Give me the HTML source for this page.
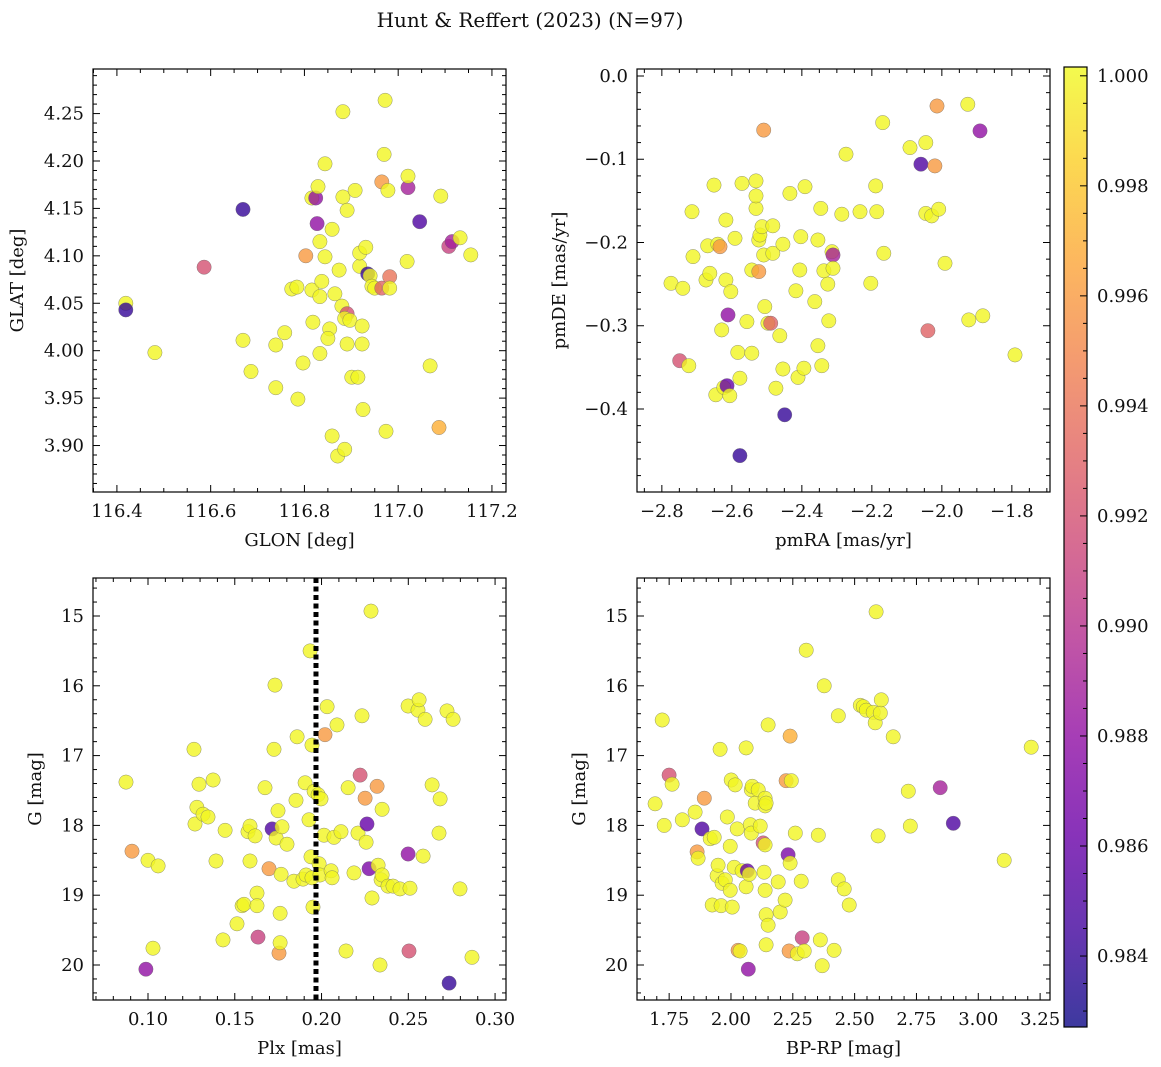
<!DOCTYPE html>
<html><head><meta charset="utf-8"><style>
body{margin:0;background:#fff}
svg{display:block;font-family:"DejaVu Serif","Liberation Serif",serif}
</style></head><body>
<svg id="fig" width="1161" height="1067" viewBox="0 0 1161 1067">
<rect width="1161" height="1067" fill="#fff"/>
<text x="530" y="27" font-size="20" text-anchor="middle" fill="#111">Hunt &amp; Reffert (2023) (N=97)</text>
</svg>
<script>
// ---- Panel data ----
const glon=[116.419,116.419,116.481,116.586,116.669,116.669,116.686,116.739,116.739,116.758,116.773,116.784,116.786,116.797,116.803,116.816,116.824,116.827,116.816,116.818,116.829,116.833,116.833,116.844,116.837,116.844,116.833,116.859,116.859,116.854,116.850,116.865,116.871,116.882,116.882,116.874,116.880,116.891,116.886,116.891,116.891,116.886,116.897,116.901,116.908,116.914,116.918,116.918,116.923,116.923,116.925,116.931,116.935,116.940,116.944,116.950,116.965,116.972,116.970,116.974,116.978,116.965,116.982,116.982,117.021,117.021,117.046,117.019,117.068,117.087,117.091,117.108,117.115,117.132,117.155];
const glat=[4.050,4.043,3.998,4.088,4.149,4.011,3.978,4.006,3.961,4.019,4.065,4.067,3.949,3.987,4.100,4.161,4.161,4.134,4.064,4.030,4.173,4.115,3.997,4.099,4.073,4.197,4.057,3.910,4.128,4.023,4.013,4.060,3.889,4.252,4.162,4.085,4.047,4.039,3.896,4.148,4.007,4.034,4.032,3.972,4.169,3.972,4.089,4.103,4.026,4.007,3.938,4.109,4.081,4.079,4.068,4.066,4.178,4.264,4.207,3.915,4.169,4.066,4.078,4.066,4.172,4.184,4.136,4.094,3.984,3.919,4.163,4.110,4.115,4.119,4.101];
const probA=[1,.984,1,.992,.984,1,1,1,1,1,1,1,1,1,.996,1,.988,.988,1,1,1,1,1,1,1,1,1,1,1,1,1,1,1,1,1,1,1,.992,1,1,1,1,1,1,1,1,1,1,1,1,1,1,.984,1,1,1,.996,1,1,1,1,.993,.994,1,.989,1,.985,1,1,.997,1,.991,.989,1,1];

const pmra=[-2.774,-2.749,-2.740,-2.723,-2.714,-2.711,-2.674,-2.669,-2.663,-2.651,-2.646,-2.640,-2.629,-2.623,-2.634,-2.617,-2.617,-2.614,-2.611,-2.606,-2.603,-2.591,-2.583,-2.577,-2.577,-2.571,-2.557,-2.543,-2.543,-2.531,-2.531,-2.531,-2.523,-2.523,-2.520,-2.514,-2.509,-2.509,-2.506,-2.497,-2.489,-2.483,-2.483,-2.474,-2.463,-2.454,-2.454,-2.449,-2.434,-2.417,-2.411,-2.406,-2.403,-2.394,-2.391,-2.363,-2.354,-2.354,-2.346,-2.343,-2.337,-2.326,-2.323,-2.314,-2.311,-2.311,-2.286,-2.274,-2.234,-2.203,-2.189,-2.186,-2.169,-2.166,-2.091,-2.060,-2.046,-2.046,-2.029,-2.020,-2.014,-2.040,-2.009,-1.991,-1.926,-1.923,-1.883,-1.891,-1.791];
const pmde=[-0.249,-0.342,-0.255,-0.348,-0.163,-0.217,-0.245,-0.204,-0.237,-0.131,-0.383,-0.202,-0.305,-0.374,-0.205,-0.173,-0.245,-0.372,-0.287,-0.384,-0.259,-0.195,-0.332,-0.363,-0.456,-0.129,-0.295,-0.333,-0.233,-0.126,-0.159,-0.144,-0.235,-0.197,-0.191,-0.181,-0.215,-0.065,-0.277,-0.297,-0.297,-0.180,-0.213,-0.375,-0.312,-0.352,-0.202,-0.407,-0.141,-0.258,-0.362,-0.233,-0.193,-0.351,-0.133,-0.271,-0.324,-0.197,-0.159,-0.348,-0.234,-0.250,-0.294,-0.211,-0.215,-0.231,-0.166,-0.094,-0.163,-0.249,-0.132,-0.163,-0.056,-0.213,-0.086,-0.106,-0.080,-0.165,-0.168,-0.108,-0.036,-0.306,-0.160,-0.225,-0.034,-0.293,-0.288,-0.066,-0.335];
const probB=[1,.992,1,1,1,1,1,1,1,1,1,1,1,1,.996,1,1,.986,.988,1,1,1,1,1,.984,1,1,1,1,1,1,1,.996,1,1,1,1,.996,1,1,.993,1,1,1,1,1,1,.984,1,1,1,1,1,1,1,1,1,1,1,1,1,1,1,1,.989,1,1,1,1,1,1,1,1,1,1,.985,1,1,1,.996,.996,.993,1,1,1,1,1,.988,1];

const plx=[.0873,.0908,.1000,.1029,.0988,.1058,.1265,.1271,.1282,.1294,.1317,.1346,.1375,.1392,.1432,.1444,.1513,.1542,.1553,.1576,.1588,.1588,.1617,.1634,.1628,.1628,.1674,.1697,.1715,.1732,.1726,.1738,.1749,.1755,.1761,.1761,.1767,.1772,.1801,.1841,.1853,.1859,.1893,.1905,.1911,.1928,.1934,.1939,.1945,.1945,.1951,.1957,.1980,.1986,.1991,.1997,.2020,.2032,.2014,.2055,.2061,.2072,.2089,.2112,.2141,.2153,.2187,.2210,.2222,.2233,.2257,.2251,.2320,.2262,.2285,.2274,.2291,.2326,.2337,.2343,.2349,.2349,.2383,.2412,.2452,.2499,.2499,.2504,.2510,.2556,.2562,.2585,.2597,.2637,.2677,.2683,.2723,.2735,.2758,.2798,.2867];
const gmagC=[17.38,18.37,18.50,19.76,20.06,18.58,16.91,17.98,17.74,17.41,17.84,17.88,17.35,18.51,19.64,18.07,19.41,19.15,19.13,18.09,18.51,18.01,18.15,19.60,18.97,19.15,17.46,18.62,18.05,15.99,16.91,18.18,17.79,19.83,19.68,19.26,18.70,18.02,18.27,18.80,17.64,16.73,18.77,17.39,18.71,17.92,15.50,18.45,18.75,16.85,19.17,17.51,17.56,18.55,18.71,17.62,16.70,16.30,18.14,18.65,18.75,18.17,16.56,18.09,19.80,17.46,18.68,18.11,17.28,16.43,18.24,17.61,17.44,17.98,14.93,18.62,19.04,18.57,20.00,18.78,17.77,18.71,18.87,18.87,18.91,16.29,18.41,19.80,18.90,16.35,16.20,18.44,16.48,17.42,18.11,17.62,16.36,20.26,16.48,18.91,19.89];
const probC=[1,.996,1,1,.988,1,1,1,1,1,1,1,1,1,1,1,1,1,1,1,1,1,1,.991,1,1,1,.996,.985,1,1,1,1,.996,1,1,1,1,1,1,1,1,1,1,1,1,1,1,1,1,1,1,1,1,1,1,.996,1,1,1,1,1,1,1,1,1,1,1,.992,1,1,.996,.996,.986,1,.987,1,1,1,1,1,1,1,1,1,1,.988,.992,1,1,1,1,1,1,1,1,1,.984,1,1,1];

const bprp=[1.693,1.722,1.730,1.750,1.762,1.803,1.855,1.863,1.867,1.883,1.892,1.916,1.924,1.932,1.944,1.948,1.956,1.960,1.964,1.977,1.985,1.997,1.997,2.001,2.005,2.013,2.017,2.025,2.029,2.037,2.045,2.061,2.061,2.066,2.070,2.074,2.078,2.082,2.082,2.086,2.098,2.110,2.118,2.130,2.138,2.138,2.138,2.134,2.142,2.138,2.142,2.142,2.150,2.150,2.191,2.199,2.219,2.223,2.231,2.235,2.239,2.239,2.244,2.260,2.268,2.284,2.288,2.296,2.304,2.353,2.361,2.369,2.377,2.417,2.434,2.434,2.458,2.478,2.523,2.535,2.547,2.575,2.587,2.583,2.595,2.604,2.608,2.656,2.717,2.725,2.846,2.899,3.105,3.214];
const gmagD=[17.69,16.49,18.00,17.28,17.41,17.92,17.81,18.38,18.47,18.05,17.61,18.19,19.14,18.17,18.72,18.57,16.91,19.15,18.83,18.78,17.88,18.93,18.30,17.35,19.17,18.60,17.42,18.05,19.79,19.80,18.65,16.89,18.88,18.65,20.06,18.70,17.99,18.11,17.49,17.44,17.68,17.49,18.01,18.25,17.61,17.72,18.28,18.67,17.68,18.93,19.28,19.71,16.56,19.43,18.81,19.24,19.07,17.36,18.42,19.80,16.72,18.54,17.36,18.11,19.84,18.80,19.61,19.80,15.49,18.14,19.64,20.01,16.00,19.79,16.43,18.78,18.91,19.14,16.28,16.30,16.35,16.38,14.94,16.53,18.15,16.39,16.20,16.73,17.51,18.01,17.46,17.97,18.50,16.88];
const probD=[1,1,1,.992,1,1,1,.996,1,.985,.996,1,1,1,1,1,1,1,1,1,1,1,1,1,1,1,1,1,.996,1,1,1,1,.986,.988,1,1,1,1,1,1,1,1,.992,1,1,1,1,1,1,1,1,1,1,1,1,1,.996,.987,.996,.997,1,1,1,1,1,.991,1,1,1,1,1,1,1,1,1,1,1,1,1,1,1,1,1,1,1,1,1,1,1,.989,.985,1,1];

const cbTicks=[0.984,0.986,0.988,0.990,0.992,0.994,0.996,0.998,1.000];
const plxCut=0.1968;
const vmin=0.98271, vmax=1.00016;

const NS='http://www.w3.org/2000/svg';
const svg=document.getElementById('fig');
function mk(tag,attrs,parent){const e=document.createElementNS(NS,tag);for(const k in attrs)e.setAttribute(k,attrs[k]);(parent||svg).appendChild(e);return e;}
const PL=[[0,13,8,135],[.1,65,4,157],[.2,106,0,168],[.3,143,13,164],[.4,177,42,144],[.5,204,71,120],[.6,225,100,98],[.7,242,132,75],[.8,252,166,54],[.9,252,206,37],[1,240,249,33]];
function plasma(t){t=Math.max(0,Math.min(1,t));for(let i=1;i<PL.length;i++){if(t<=PL[i][0]){const a=PL[i-1],b=PL[i],f=(t-a[0])/(b[0]-a[0]);return 'rgb('+[1,2,3].map(j=>Math.round(a[j]+f*(b[j]-a[j]))).join(',')+')';}}return 'rgb(240,249,33)';}
function cval(p){return plasma((p-vmin)/(vmax-vmin));}
function fmt(v,d){return (v<0?'\u2212':'')+Math.abs(v).toFixed(d);}

function panel(o){
  const g=mk('g',{});
  
  
  const sx=v=>o.x0+(v-o.xmin)/(o.xmax-o.xmin)*(o.x1-o.x0);
  const sy=o.yinv? v=>o.y0+(v-o.ymin)/(o.ymax-o.ymin)*(o.y1-o.y0) : v=>o.y1-(v-o.ymin)/(o.ymax-o.ymin)*(o.y1-o.y0);
  const pg=mk('g',{},g);
  
  
  for(let i=0;i<o.xs.length;i++){
    const c=mk('circle',{cx:sx(o.xs[i]).toFixed(1),cy:sy(o.ys[i]).toFixed(1),r:7.2,fill:cval(o.ps[i]),'fill-opacity':0.8,stroke:'#666','stroke-width':0.5,'stroke-opacity':0.7},pg);
    
    
  }
  if(o.extra)o.extra(g,sx,sy);
  const fr=mk('rect',{x:o.x0,y:o.y0,width:o.x1-o.x0,height:o.y1-o.y0,fill:'none',stroke:'#000','stroke-width':1.2},g);
  
  
  const eps=1e-9;
  const k0=Math.ceil(o.xmin/o.xminor-eps),k1=Math.floor(o.xmax/o.xminor+eps);
  for(let k=k0;k<=k1;k++){const v=k*o.xminor;const x=sx(v);const maj=Math.abs(v/o.xmajor-Math.round(v/o.xmajor))<1e-6;const L=maj?7:4;
    mk('line',{x1:x,x2:x,y1:o.y1,y2:o.y1-L,stroke:'#000','stroke-width':1},g);
    mk('line',{x1:x,x2:x,y1:o.y0,y2:o.y0+L,stroke:'#000','stroke-width':1},g);
    if(maj){const t=mk('text',{x:x,y:o.y1+25,'font-size':18,'text-anchor':'middle',fill:'#111'},g);t.textContent=fmt(v,o.xdec);}}
  const j0=Math.ceil(o.ymin/o.yminor-eps),j1=Math.floor(o.ymax/o.yminor+eps);
  for(let k=j0;k<=j1;k++){const v=k*o.yminor;const y=sy(v);const maj=Math.abs(v/o.ymajor-Math.round(v/o.ymajor))<1e-6;const L=maj?7:4;
    mk('line',{x1:o.x0,x2:o.x0+L,y1:y,y2:y,stroke:'#000','stroke-width':1},g);
    mk('line',{x1:o.x1,x2:o.x1-L,y1:y,y2:y,stroke:'#000','stroke-width':1},g);
    if(maj){const t=mk('text',{x:o.x0-9,y:y+6,'font-size':18,'text-anchor':'end',fill:'#111'},g);t.textContent=fmt(v,o.ydec);}}
  const xl=mk('text',{x:(o.x0+o.x1)/2,y:o.y1+54,'font-size':18,'text-anchor':'middle',fill:'#111'},g);xl.textContent=o.xlabel;
  
  const yl=mk('text',{x:0,y:0,'font-size':18,'text-anchor':'middle',fill:'#111',transform:'translate('+o.ylx+','+((o.y0+o.y1)/2)+') rotate(-90)'},g);yl.textContent=o.ylabel;
  
}

panel({name:'glon-glat-panel',x0:93,x1:506,y0:69,y1:492,xmin:116.349,xmax:117.230,ymin:3.851,ymax:4.297,xmajor:0.2,xminor:0.05,ymajor:0.05,yminor:0.01,xdec:1,ydec:2,xs:glon,ys:glat,ps:probA,xlabel:'GLON [deg]',ylabel:'GLAT [deg]',ylx:23});
panel({name:'proper-motion-panel',x0:637,x1:1050,y0:69,y1:492,xmin:-2.871,xmax:-1.691,ymin:-0.4997,ymax:0.0084,xmajor:0.2,xminor:0.05,ymajor:0.1,yminor:0.02,xdec:1,ydec:1,xs:pmra,ys:pmde,ps:probB,xlabel:'pmRA [mas/yr]',ylabel:'pmDE [mas/yr]',ylx:565});
const gmin=15-(616-578)/69.8, gmax=20+(1000-965)/69.8;
panel({name:'parallax-mag-panel',x0:93,x1:506,y0:578,y1:1000,xmin:0.0683,xmax:0.3063,ymin:gmin,ymax:gmax,yinv:true,xmajor:0.05,xminor:0.01,ymajor:1,yminor:0.2,xdec:2,ydec:0,xs:plx,ys:gmagC,ps:probC,xlabel:'Plx [mas]',ylabel:'G [mag]',ylx:41,
  extra:(g,sx,sy)=>{const l=mk('line',{x1:sx(plxCut),x2:sx(plxCut),y1:578,y2:1000,stroke:'#000','stroke-width':5,'stroke-dasharray':'5,3.5'},g);}});
panel({name:'cmd-panel',x0:637,x1:1050,y0:578,y1:1000,xmin:1.620,xmax:3.290,ymin:gmin,ymax:gmax,yinv:true,xmajor:0.25,xminor:0.05,ymajor:1,yminor:0.2,xdec:2,ydec:0,xs:bprp,ys:gmagD,ps:probD,xlabel:'BP-RP [mag]',ylabel:'G [mag]',ylx:585});

(function(){
  const x0=1064,x1=1087,y0=67,y1=1027;
  const g=mk('g',{});
  
  
  const defs=mk('defs',{},g);
  const lg=mk('linearGradient',{id:'pl',x1:0,y1:1,x2:0,y2:0},defs);
  PL.forEach(s=>mk('stop',{offset:s[0],'stop-color':'rgb('+s[1]+','+s[2]+','+s[3]+')'},lg));
  mk('rect',{x:x0,y:y0,width:x1-x0,height:y1-y0,fill:'url(#pl)','fill-opacity':0.8},g);
  mk('rect',{x:x0,y:y0,width:x1-x0,height:y1-y0,fill:'none',stroke:'#000','stroke-width':1.2},g);
  const sy=v=>y1-(v-vmin)/(vmax-vmin)*(y1-y0);
  for(let k=Math.ceil(vmin/0.0005);k<=Math.floor(vmax/0.0005);k++){const v=k*0.0005;const y=sy(v);const maj=(k%4===0);
    mk('line',{x1:x1,x2:x1-(maj?7:4),y1:y,y2:y,stroke:'#000','stroke-width':1},g);}
  cbTicks.forEach(v=>{const t=mk('text',{x:x1+10,y:sy(v)+6,'font-size':18,fill:'#111'},g);t.textContent=v.toFixed(3);
    });
})();
</script>
</body></html>
